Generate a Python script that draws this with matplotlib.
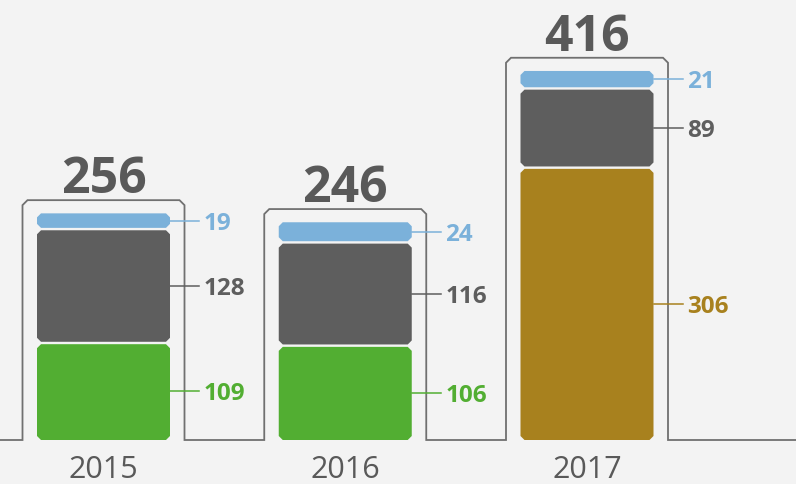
import matplotlib
matplotlib.use("Agg")
import matplotlib.pyplot as plt
from matplotlib.patches import Polygon
from matplotlib import font_manager
import numpy as np

# ---- data ----
years = ["2015", "2016", "2017"]
base_vals = [109, 106, 306]      # green (2015, 2016) / gold (2017)
mid_vals = [128, 116, 89]        # dark gray
top_vals = [19, 24, 21]          # light blue
totals = [256, 246, 416]

base_colors = ["#52ae32", "#52ae32", "#a8811e"]
mid_color = "#5e5e5e"
top_color = "#7bb1da"
text_gray = "#595959"
outline_color = "#707070"
bg = "#f3f3f3"

W, H, DPI = 796, 484, 100
fig = plt.figure(figsize=(W / DPI, H / DPI), dpi=DPI, facecolor=bg)
ax = fig.add_axes([0, 0, 1, 1])
ax.set_facecolor(bg)
ax.axis("off")

# scales (pixels per unit)
sx = 241.75
sy = 0.89
x0px = 103.5
base_px = 44  # baseline distance from bottom
ax.set_xlim(-x0px / sx, (W - x0px) / sx)
ax.set_ylim(-base_px / sy, (H - base_px) / sy)

def px_x(p):
    return p / sx

def px_y(p):
    return p / sy

names = {f.name for f in font_manager.fontManager.ttflist}
bold_family = "Open Sans" if "Open Sans" in names else "DejaVu Sans"
year_family = bold_family

bar_w = px_x(133)
cx, cy = px_x(4), px_y(4)
gap = px_y(1.2)

def chamfer(xl, xr, yb, yt, cx, cy):
    return [(xl + cx, yb), (xr - cx, yb), (xr, yb + cy), (xr, yt - cy),
            (xr - cx, yt), (xl + cx, yt), (xl, yt - cy), (xl, yb + cy)]

x = np.arange(len(years))

# outline path across the baseline
out_hw = px_x(81)
out_pad = px_y(12)
ocx, ocy = px_x(5), px_y(5)
path_x = [ax.get_xlim()[0]]
path_y = [0]
for i in range(len(years)):
    top = totals[i] + out_pad
    xl, xr = x[i] - out_hw, x[i] + out_hw
    path_x += [xl, xl, xl + ocx, xr - ocx, xr, xr]
    path_y += [0, top - ocy, top, top, top - ocy, 0]
path_x.append(ax.get_xlim()[1])
path_y.append(0)
ax.plot(path_x, path_y, color=outline_color, lw=1.3, solid_joinstyle="miter", zorder=1)

lead_end = px_x(95.5)
label_x = px_x(100)
for i in range(len(years)):
    segs = [(base_vals[i], base_colors[i]), (mid_vals[i], mid_color), (top_vals[i], top_color)]
    bottom = 0
    xl, xr = x[i] - bar_w / 2, x[i] + bar_w / 2
    for j, (v, c) in enumerate(segs):
        yb = bottom + (gap if j > 0 else 0)
        yt = bottom + v - gap
        ax.add_patch(Polygon(chamfer(xl, xr, yb, yt, cx, cy), closed=True,
                             facecolor=c, edgecolor="none", zorder=2))
        ym = bottom + v / 2
        ax.plot([xr, x[i] + lead_end], [ym, ym], color=c, lw=1.1, zorder=1.5)
        ax.text(x[i] + label_x, ym, str(v), color=c, fontsize=17.5,
                fontweight="bold", family=bold_family, ha="left", va="center_baseline")
        bottom += v
    ax.text(x[i], totals[i] + out_pad + px_y(7), str(totals[i]), color=text_gray,
            fontsize=36, fontweight="bold", family=bold_family, ha="center", va="baseline")
    ax.text(x[i], -px_y(38), years[i], color=text_gray, fontsize=22,
            family=year_family, ha="center", va="baseline")

fig.savefig("out.png", dpi=DPI, facecolor=bg)
